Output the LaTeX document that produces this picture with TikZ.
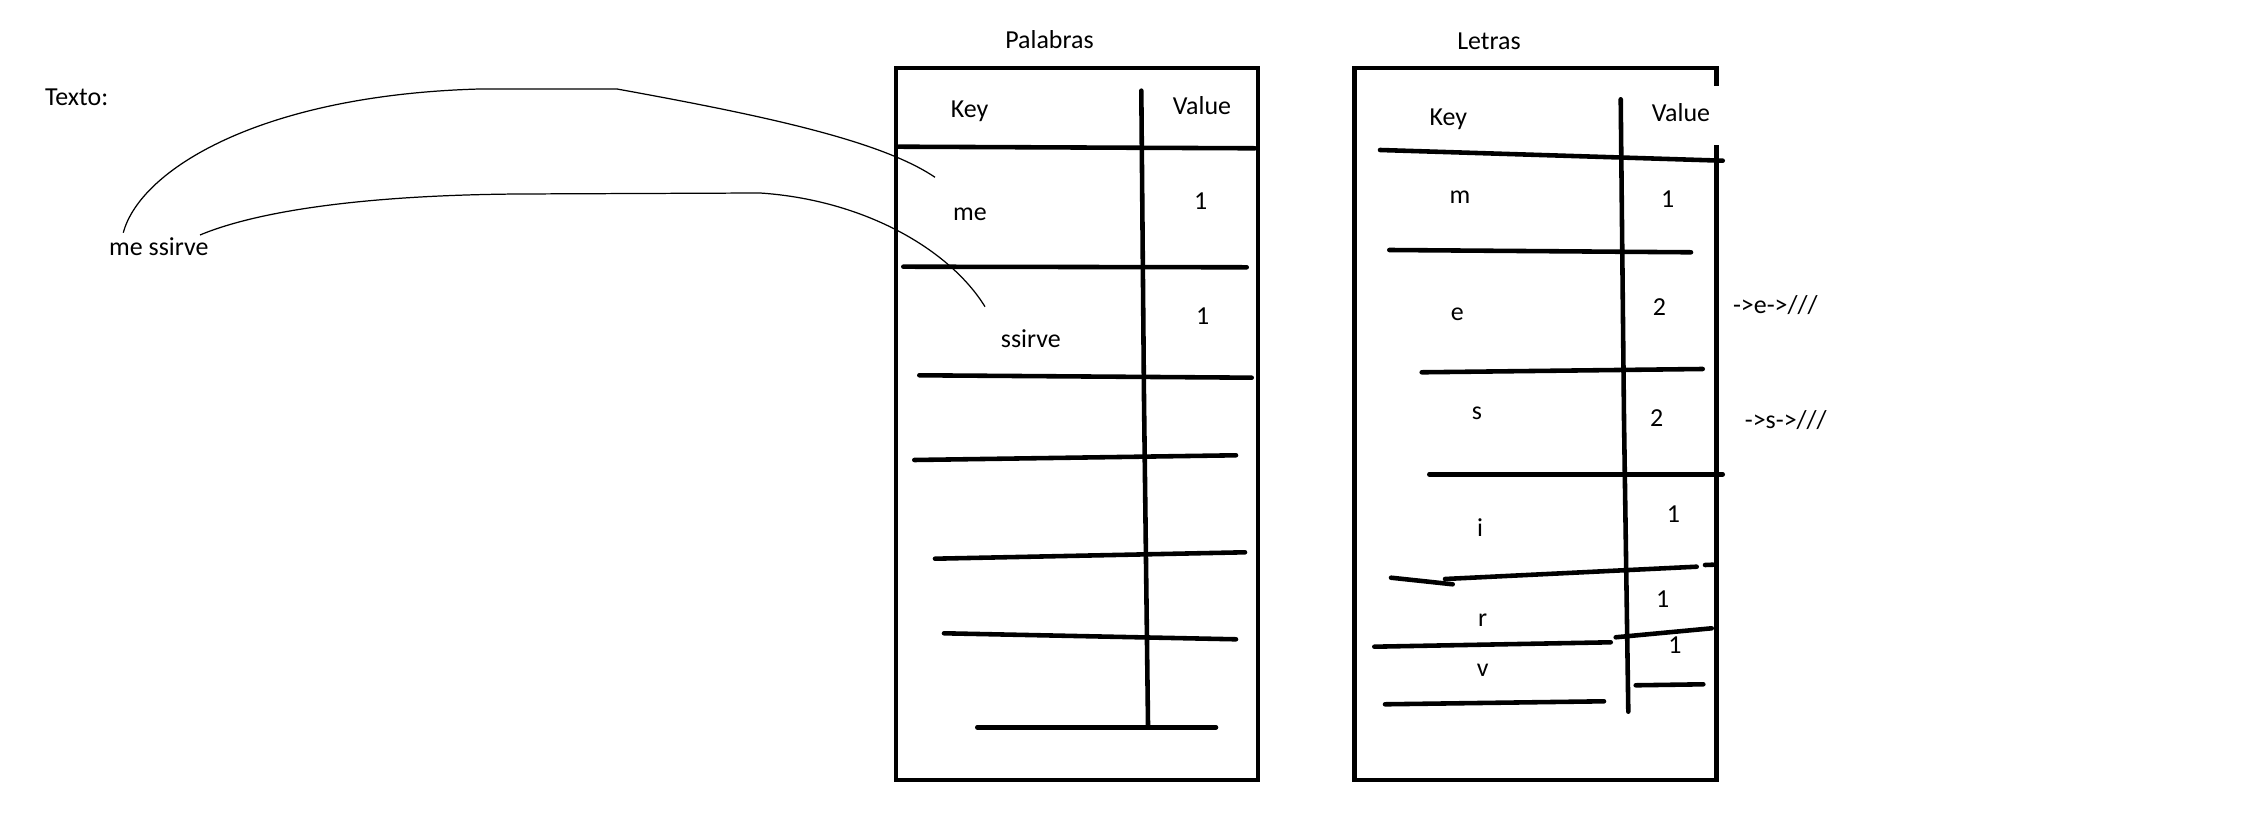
\documentclass[tikz,border=0pt]{standalone}
\usepackage{fontspec}
\setmainfont{Carlito}
\begin{document}
\begin{tikzpicture}[x=0.01cm,y=-0.01cm,
  rule/.style={line width=1.3pt, line cap=round},
  frame/.style={line width=1.35pt, line join=miter},
  wire/.style={line width=0.35pt},
  lbl/.style={anchor=base, inner sep=0pt, font=\fontsize{7.37pt}{9pt}\selectfont}]
\useasboundingbox (0,0) rectangle (2264,816);

% ---------- left side ----------
\node[lbl] (texto) at (76.7,105.7) {Texto:};
\node[lbl] (msg) at (158.8,256) {me ssirve};

% ---------- Palabras table ----------
\node[lbl] (palabras) at (1049.5,48.3) {Palabras};
\draw[frame] (896,68) rectangle (1258,780);
\draw[rule] (1141.3,90.7) -- (1144,400) -- (1148,725);
\draw[rule] (898.7,146.7) -- (1255,148.3);
\draw[rule] (903.3,266.7) -- (1246.7,267.3);
\draw[rule] (919.3,375.3) -- (1251.7,377.7);
\draw[rule] (914.3,460) -- (1236,455.3);
\draw[rule] (935,558.7) -- (1245,552.3);
\draw[rule] (944,633.3) -- (1236,639.3);
\draw[rule] (977.3,727.3) -- (1216,727.3);
\node[lbl] (pkey) at (969.5,117.3) {Key};
\node[lbl] (pval) at (1202,114.3) {Value};
\node[lbl] (pme) at (970,220.7) {me};
\node[lbl] (pme1) at (1200.7,209.3) {1};
\node[lbl] (pss) at (1030.8,347.3) {ssirve};
\node[lbl] (pss1) at (1202.7,324.3) {1};

% ---------- Letras table ----------
\node[lbl] (letras) at (1489,50) {Letras};
\draw[frame] (1716.5,85.7) -- (1716.5,68) -- (1354.7,68) -- (1354.7,780) -- (1716.5,780) -- (1716.5,145);
\draw[rule] (1620.7,99.3) -- (1624,420) -- (1628.3,711.7);
\draw[rule] (1380,150) -- (1722.7,160.7);
\draw[rule] (1389.3,250) -- (1691,252.3);
\draw[rule] (1421.7,372.3) -- (1702.7,369);
\draw[rule] (1429.3,474.3) -- (1722.7,474.3);
\draw[rule] (1391,577.7) -- (1452.7,584.3);
\draw[rule] (1445,579) -- (1696.7,566.7);
\draw[rule] (1705,565) -- (1713.3,564.7);
\draw[rule] (1374.3,646.7) -- (1610.7,642.3);
\draw[rule] (1615.7,637.3) -- (1711.7,628.3);
\draw[rule] (1635.7,685.3) -- (1703.3,684.3);
\draw[rule] (1385,704.3) -- (1604,701.3);
\node[lbl] (lkey) at (1448.3,126) {Key};
\node[lbl] (lval) at (1681,121.7) {Value};
\node[lbl] (lm) at (1460,203.3) {m};
\node[lbl] (lm1) at (1667.7,207.7) {1};
\node[lbl] (le) at (1457.3,320.7) {e};
\node[lbl] (le2) at (1659.3,316) {2};
\node[lbl] (lechain) at (1775.3,313.3) {->e->///};
\node[lbl] (ls) at (1477,420) {s};
\node[lbl] (ls2) at (1656.7,426.7) {2};
\node[lbl] (lschain) at (1785.8,428.3) {->s->///};
\node[lbl] (li) at (1480,536.7) {i};
\node[lbl] (li1) at (1673.3,522.7) {1};
\node[lbl] (lr) at (1482.7,626.7) {r};
\node[lbl] (lr1) at (1662.7,607.3) {1};
\node[lbl] (lv) at (1482.7,676.7) {v};
\node[lbl] (lv1) at (1675,653.3) {1};

% ---------- connectors ----------
\coordinate (c1s) at (123.3,232.7);
\coordinate (c1e) at (935,177.3);
\coordinate (c2s) at (200,235);
\coordinate (c2e) at (985,306.7);
\draw[wire] (c1s) .. controls (140,170) and (260,95) .. (480,89) -- (617,89)
  .. controls (760,115) and (880,140) .. (c1e);
\draw[wire] (c2s) .. controls (260,210) and (370,195) .. (520,194) -- (760,193)
  .. controls (865,200) and (950,250) .. (c2e);
\end{tikzpicture}
\end{document}
